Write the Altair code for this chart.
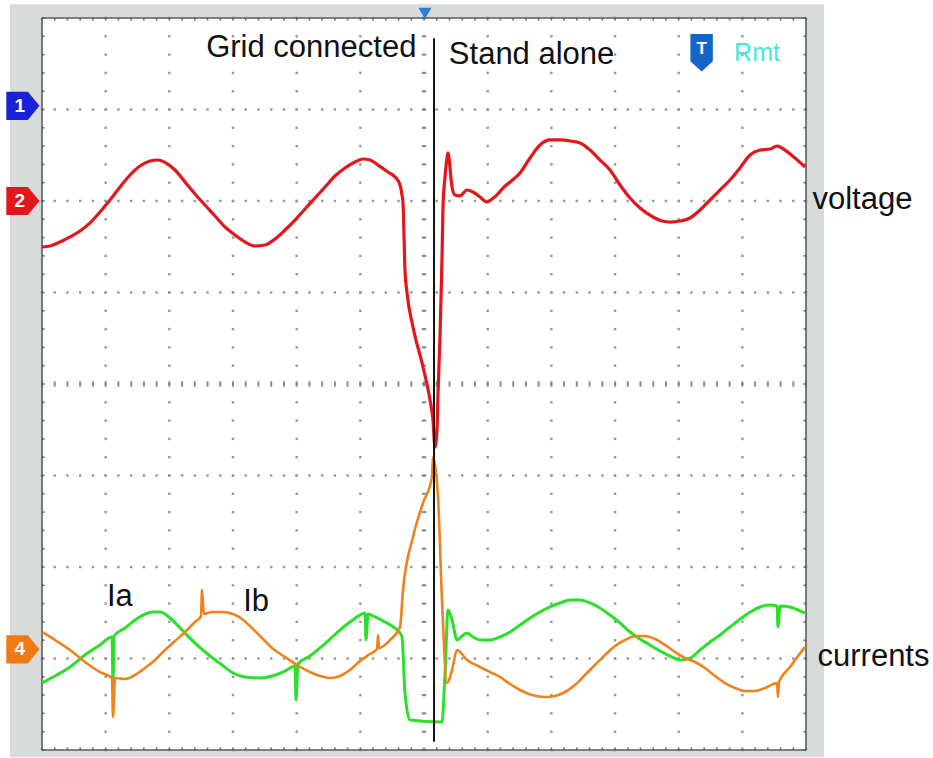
import altair as alt
import numpy as np
import pandas as pd

# ---------------- data (time in screen divisions, amplitude in divisions) ----------------
# voltage (red)
volt_t = [0.000, 0.126, 0.283, 0.440, 0.597, 0.754, 0.911, 1.068, 1.225, 1.382, 1.539, 1.696,
          1.822, 1.948, 2.089, 2.246, 2.403, 2.560, 2.717, 2.874, 3.031, 3.188, 3.345, 3.502,
          3.660, 3.817, 3.974, 4.131, 4.288, 4.445, 4.602, 4.759, 4.916, 5.042, 5.152, 5.277,
          5.434, 5.560, 5.623, 5.654, 5.670, 5.701, 5.733, 5.827, 5.984, 6.094, 6.141, 6.172,
          6.204, 6.220, 6.251, 6.282, 6.298, 6.330, 6.361, 6.377, 6.393, 6.408, 6.440, 6.487,
          6.565, 6.675, 6.769, 6.879, 6.989, 7.068, 7.146, 7.241, 7.351, 7.508, 7.665, 7.822,
          7.979, 8.136, 8.293, 8.450, 8.607, 8.764, 8.921, 9.078, 9.235, 9.392, 9.596, 9.738,
          9.863, 10.020, 10.177, 10.335, 10.492, 10.649, 10.806, 10.963, 11.120, 11.277, 11.434,
          11.544, 11.670, 11.827, 11.984]
volt_v = [1.497, 1.508, 1.552, 1.607, 1.672, 1.760, 1.880, 2.011, 2.153, 2.284, 2.383, 2.437,
          2.448, 2.415, 2.339, 2.208, 2.077, 1.956, 1.836, 1.716, 1.628, 1.552, 1.508, 1.519,
          1.585, 1.683, 1.792, 1.913, 2.033, 2.153, 2.273, 2.361, 2.426, 2.459, 2.448, 2.393,
          2.317, 2.251, 2.175, 2.066, 1.978, 1.246, 0.995, 0.623, 0.186, -0.175, -0.393, -0.689,
          -0.503, -0.098, 0.514, 1.355, 1.934, 2.262, 2.470, 2.525, 2.470, 2.361, 2.153, 2.066,
          2.055, 2.120, 2.098, 2.044, 1.989, 2.022, 2.066, 2.142, 2.208, 2.306, 2.470, 2.612,
          2.667, 2.667, 2.656, 2.634, 2.557, 2.448, 2.339, 2.175, 2.033, 1.923, 1.825, 1.781,
          1.770, 1.781, 1.814, 1.902, 2.011, 2.120, 2.230, 2.361, 2.503, 2.557, 2.568,
          2.601, 2.557, 2.470, 2.372]

# current Ia (green)
ia_t = [0.000, 0.204, 0.440, 0.675, 0.911, 1.099, 1.115, 1.131, 1.304, 1.461, 1.618, 1.743,
        1.853, 2.010, 2.199, 2.403, 2.639, 2.827, 3.000, 3.188, 3.424, 3.612, 3.817, 3.974,
        3.989, 4.021, 4.209, 4.366, 4.523, 4.680, 4.837, 4.994, 5.073, 5.089, 5.120, 5.230,
        5.387, 5.544, 5.623, 5.654, 5.701, 5.780, 6.282, 6.330, 6.377, 6.440, 6.518, 6.597,
        6.675, 6.769, 6.879, 7.036, 7.193, 7.351, 7.508, 7.665, 7.822, 7.979, 8.136, 8.293,
        8.450, 8.607, 8.764, 8.921, 9.078, 9.235, 9.392, 9.549, 9.706, 9.863, 10.020, 10.177,
        10.335, 10.492, 10.649, 10.806, 11.010, 11.151, 11.277, 11.434, 11.544, 11.560, 11.591,
        11.748, 11.874, 11.984]
ia_v = [-3.268, -3.191, -3.093, -2.962, -2.852, -2.765, -3.311, -2.754, -2.667, -2.579, -2.514, -2.492,
        -2.492, -2.557, -2.689, -2.831, -2.973, -3.071, -3.158, -3.202, -3.213, -3.191, -3.137, -3.082,
        -3.454, -3.060, -2.973, -2.885, -2.787, -2.689, -2.601, -2.525, -2.503, -2.798, -2.514, -2.546,
        -2.601, -2.667, -2.721, -2.765, -3.377, -3.672, -3.694, -3.158, -2.470, -2.579, -2.798, -2.754,
        -2.721, -2.765, -2.798, -2.798, -2.765, -2.710, -2.634, -2.557, -2.492, -2.437, -2.393, -2.361,
        -2.361, -2.393, -2.448, -2.525, -2.612, -2.710, -2.787, -2.852, -2.918, -2.973, -3.016, -2.995,
        -2.907, -2.820, -2.743, -2.656, -2.546, -2.481, -2.437, -2.415, -2.426, -2.656, -2.426,
        -2.437, -2.470, -2.503]

# current Ib (orange)
ib_t = [0.000, 0.204, 0.440, 0.675, 0.911, 1.099, 1.115, 1.147, 1.304, 1.461, 1.618, 1.775,
        1.932, 2.089, 2.246, 2.403, 2.497, 2.513, 2.544, 2.670, 2.827, 3.000, 3.141, 3.298,
        3.455, 3.612, 3.817, 4.005, 4.209, 4.366, 4.523, 4.680, 4.837, 4.994, 5.152, 5.262,
        5.277, 5.293, 5.466, 5.623, 5.670, 5.827, 5.984, 6.125, 6.141, 6.220, 6.282, 6.361,
        6.440, 6.518, 6.675, 6.879, 7.036, 7.193, 7.351, 7.508, 7.696, 7.900, 8.057, 8.214,
        8.371, 8.528, 8.685, 8.843, 9.000, 9.157, 9.314, 9.471, 9.628, 9.785, 9.942, 10.099,
        10.256, 10.413, 10.570, 10.727, 10.884, 11.041, 11.198, 11.356, 11.544, 11.560, 11.575,
        11.748, 11.874, 11.984]
ib_v = [-2.710, -2.798, -2.907, -3.038, -3.148, -3.213, -3.639, -3.213, -3.224, -3.180, -3.104, -3.016,
        -2.907, -2.809, -2.710, -2.601, -2.536, -2.251, -2.514, -2.492, -2.492, -2.514, -2.568, -2.667,
        -2.776, -2.885, -2.984, -3.071, -3.148, -3.191, -3.213, -3.191, -3.126, -3.027, -2.951, -2.896,
        -2.743, -2.885, -2.798, -2.656, -2.251, -1.672, -1.301, -1.016, -0.798, -1.235, -2.361, -3.268,
        -3.126, -2.907, -3.016, -3.093, -3.148, -3.202, -3.279, -3.344, -3.399, -3.421, -3.410, -3.366,
        -3.290, -3.180, -3.071, -2.962, -2.863, -2.798, -2.754, -2.754, -2.787, -2.852, -2.929, -2.995,
        -3.038, -3.104, -3.191, -3.268, -3.322, -3.355, -3.355, -3.322, -3.268, -3.421, -3.257,
        -3.093, -2.973, -2.874]

switch_t = 6.157          # switching instant (black cursor)
trigger_t = 6.015         # trigger marker position

labels = ["Grid connected", "Stand alone", "voltage", "currents", "Ia", "Ib"]

# ---------------- screen geometry (divisions) ----------------
NX, NY = 12, 4
xs = alt.Scale(domain=[-42 / 63.67, (933 - 42) / 63.67], nice=False, zero=False)
ys = alt.Scale(domain=[-(758 - 384) / 91.5, 384 / 91.5], nice=False, zero=False)


def X(f="t"):
    return alt.X(f, type="quantitative", scale=xs, axis=None)


def Y(f="v"):
    return alt.Y(f, type="quantitative", scale=ys, axis=None)


# frame
frame_df = pd.DataFrame([{"t": -0.503, "t2": 12.282, "v": 4.15, "v2": -4.08}])
frame = alt.Chart(frame_df).mark_rect(color="#d7dbda").encode(
    x=X("t"), x2="t2", y=Y("v"), y2="v2")
screen_df = pd.DataFrame([{"t": 0, "t2": NX, "v": NY, "v2": -NY}])
screen = alt.Chart(screen_df).mark_rect(color="white").encode(
    x=X("t"), x2="t2", y=Y("v"), y2="v2")
border = alt.Chart(screen_df).mark_rect(fill=None, stroke="#5c5c5c", strokeWidth=1.6).encode(
    x=X("t"), x2="t2", y=Y("v"), y2="v2")

# grid dots
sub_t = np.round(np.arange(0, NX + 0.001, 0.2), 3)
sub_v = np.round(np.arange(-NY, NY + 0.001, 0.2), 3)
dots = []
for lv in [-3, -2, -1, 1, 2, 3]:
    dots += [{"t": t, "v": lv} for t in sub_t]
for lt in [1, 2, 3, 4, 5, 7, 8, 9, 10, 11]:
    dots += [{"t": lt, "v": v} for v in sub_v]
grid_dots = alt.Chart(pd.DataFrame(dots)).mark_point(
    shape="square", size=6, filled=True, color="#999999", opacity=1).encode(x=X(), y=Y())

# center cross ticks
cx = pd.DataFrame([{"t": t, "v": 0} for t in sub_t])
cy = pd.DataFrame([{"t": 6, "v": v} for v in sub_v])
cross_x = alt.Chart(cx).mark_point(shape="M0,-1L0,1", size=30, strokeWidth=2,
                                   color="#8c8c8c", opacity=1).encode(x=X(), y=Y())
cross_y = alt.Chart(cy).mark_point(shape="M-1,0L1,0", size=20, strokeWidth=2.2,
                                   color="#8c8c8c", opacity=1).encode(x=X(), y=Y())

# border minor ticks (inward)
top_t = pd.DataFrame([{"t": t, "v": NY} for t in sub_t])
bot_t = pd.DataFrame([{"t": t, "v": -NY} for t in sub_t])
lef_t = pd.DataFrame([{"t": 0, "v": v} for v in sub_v])
rig_t = pd.DataFrame([{"t": NX, "v": v} for v in sub_v])
tk = dict(size=25, strokeWidth=1.6, color="#6a6a6a", opacity=1)
ticks = [
    alt.Chart(top_t).mark_point(shape="M0,0L0,1", **tk).encode(x=X(), y=Y()),
    alt.Chart(bot_t).mark_point(shape="M0,-1L0,0", **tk).encode(x=X(), y=Y()),
    alt.Chart(lef_t).mark_point(shape="M0,0L1,0", **tk).encode(x=X(), y=Y()),
    alt.Chart(rig_t).mark_point(shape="M-1,0L0,0", **tk).encode(x=X(), y=Y()),
]


# traces
def trace(ts, vs, color, width):
    df = pd.DataFrame({"t": ts, "v": vs, "i": range(len(ts))})
    return alt.Chart(df).mark_line(color=color, strokeWidth=width, strokeJoin="round",
                                   interpolate="monotone").encode(
        x=X(), y=Y(), order="i:Q")


red = trace(volt_t, volt_v, "#e3161c", 3.2)
green = trace(ia_t, ia_v, "#2be02b", 3)
orange = trace(ib_t, ib_v, "#f0821e", 2.6)

# switching cursor
cur_df = pd.DataFrame([{"t": switch_t, "v": 3.78, "v2": -3.91}])
cursor = alt.Chart(cur_df).mark_rule(color="#111111", strokeWidth=2).encode(
    x=X(), y=Y(), y2="v2")

# trigger marker at top
trig = alt.Chart(pd.DataFrame([{"t": trigger_t, "v": 4.05}])).mark_point(
    shape="triangle-down", size=170, filled=True, color="#2a80d6", opacity=1).encode(x=X(), y=Y())

# channel markers on the left margin
ch_df = pd.DataFrame([
    {"t": -0.30, "v": 3.04, "c": "#1a22d8", "lab": "1"},
    {"t": -0.30, "v": 2.00, "c": "#e3161c", "lab": "2"},
    {"t": -0.30, "v": -2.90, "c": "#f07a12", "lab": "4"},
])
ch_marks = alt.Chart(ch_df).mark_point(
    shape="M-1,-0.85L0.3,-0.85L1,0L0.3,0.85L-1,0.85Z", size=1100, filled=True, opacity=1).encode(
    x=X(), y=Y(), color=alt.Color("c:N", scale=None))
ch_text = alt.Chart(ch_df).mark_text(color="white", font="Liberation Sans", fontWeight="bold",
                                     fontSize=19, dx=-3).encode(x=X(), y=Y(), text="lab:N")

# T / Rmt indicator
t_df = pd.DataFrame([{"t": 10.36, "v": 3.62, "lab": "T"}])
t_mark = alt.Chart(t_df).mark_point(
    shape="M-0.6,-1L0.6,-1L0.6,0.45L0,1L-0.6,0.45Z", size=1400, filled=True,
    color="#1565c8", opacity=1).encode(x=X(), y=Y())
t_text = alt.Chart(t_df).mark_text(color="white", font="Liberation Sans", fontWeight="bold",
                                   fontSize=17, dy=-4).encode(x=X(), y=Y(), text="lab:N")
rmt = alt.Chart(pd.DataFrame([{"t": 11.23, "v": 3.62, "lab": "Rmt"}])).mark_text(
    color="#3fe8e0", font="Liberation Sans", fontSize=25).encode(x=X(), y=Y(), text="lab:N")

# annotation texts
FONT = "Liberation Sans"
ann_r = alt.Chart(pd.DataFrame([{"t": 5.88, "v": 3.67, "lab": labels[0]}])).mark_text(
    align="right", baseline="middle", font=FONT, fontSize=31, color="#111111").encode(
    x=X(), y=Y(), text="lab:N")
ann_l = alt.Chart(pd.DataFrame([
    {"t": 6.39, "v": 3.60, "lab": labels[1], "s": 31},
    {"t": 12.10, "v": 2.01, "lab": labels[2], "s": 31},
    {"t": 12.18, "v": -2.98, "lab": labels[3], "s": 31},
    {"t": 1.02, "v": -2.33, "lab": labels[4], "s": 31},
    {"t": 3.16, "v": -2.38, "lab": labels[5], "s": 31},
])).mark_text(align="left", baseline="middle", font=FONT, color="#111111").encode(
    x=X(), y=Y(), text="lab:N", size=alt.Size("s:Q", scale=None, legend=None))

chart = alt.layer(
    frame, screen, grid_dots, cross_x, cross_y, *ticks, border,
    green, orange, red, cursor, trig, ch_marks, ch_text, t_mark, t_text, rmt, ann_r, ann_l
).properties(
    width=933, height=758, padding=0, autosize="none", background="white"
).configure_view(stroke=None)

chart.save("out.html", embed_options={"renderer": "svg", "actions": False})
